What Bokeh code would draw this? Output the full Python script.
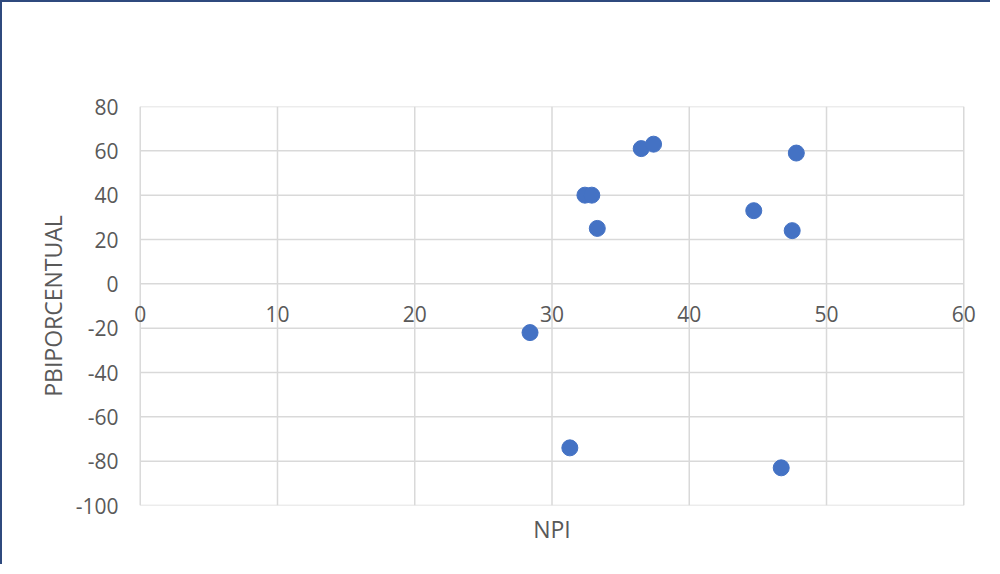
from bokeh.plotting import figure
from bokeh.models import Range1d, FixedTicker, Title, LabelSet, ColumnDataSource
from bokeh.core.properties import value
from bokeh.embed import file_html
from bokeh.resources import INLINE

npi = [28.4, 31.3, 32.4, 32.9, 33.3, 36.5, 37.4, 44.7, 46.7, 47.5, 47.8]
pbi = [-22, -74, 40, 40, 25, 61, 63, 33, -83, 24, 59]
x_ticks = [0, 10, 20, 30, 40, 50, 60]
y_ticks = [-100, -80, -60, -40, -20, 0, 20, 40, 60, 80]
x_labels = [str(t) for t in x_ticks]
y_labels = [str(t) for t in y_ticks]

FONT = "Open Sans"
TXT = "#595959"
GRID = "#D9D9D9"

x_min, x_max = x_ticks[0], x_ticks[-1]
y_min, y_max = y_ticks[0], y_ticks[-1]

# small padding on x so that the "0" and "60" labels on the y=0 axis are not clipped
p = figure(width=990, height=564, output_backend="svg", toolbar_location=None,
           x_range=Range1d(x_min - 1, x_max + 1), y_range=Range1d(y_min, y_max),
           min_border_left=124, min_border_right=15, min_border_top=104, min_border_bottom=61)
p.styles = {"border-top": "2px solid #2F4A7E", "border-left": "2px solid #2F4A7E"}
p.outline_line_color = None
p.background_fill_color = "white"
p.xgrid.visible = False
p.ygrid.visible = False

# gridlines (plot area spans x 0..60, y -100..80)
p.segment(x0=x_ticks, y0=[y_min] * len(x_ticks), x1=x_ticks, y1=[y_max] * len(x_ticks),
          line_color=GRID, line_width=1.5)
p.segment(x0=[x_min] * len(y_ticks), y0=y_ticks, x1=[x_max] * len(y_ticks), y1=y_ticks,
          line_color=GRID, line_width=1.5)

p.scatter(npi, pbi, size=16, color="#4472C4", line_color="#4472C4")

# x axis crosses at y = 0: its tick labels sit just below the 0 line
p.xaxis.visible = False
src = ColumnDataSource(dict(x=x_ticks, y=[0] * len(x_ticks), t=x_labels))
p.add_layout(LabelSet(x="x", y="y", text="t", source=src, y_offset=-22,
                      text_align="center", text_baseline="top",
                      text_font=value(FONT), text_font_size="21px", text_color=TXT))

ya = p.yaxis[0]
ya.ticker = FixedTicker(ticks=y_ticks)
ya.major_label_overrides = {t: s for t, s in zip(y_ticks, y_labels)}
ya.axis_line_color = None
ya.major_tick_line_color = None
ya.minor_tick_line_color = None
ya.major_label_standoff = 2
ya.major_label_text_font = FONT
ya.major_label_text_font_size = "21px"
ya.major_label_text_color = TXT
ya.axis_label = "PBIPORCENTUAL"
ya.axis_label_text_font = FONT
ya.axis_label_text_font_size = "23px"
ya.axis_label_text_font_style = "normal"
ya.axis_label_text_color = TXT
ya.axis_label_standoff = 4

p.add_layout(Title(text="NPI", align="center", text_font=FONT, text_font_size="23px",
                   text_font_style="normal", text_color=TXT, offset=0), "below")

open("out.html", "w").write(file_html(p, INLINE))
